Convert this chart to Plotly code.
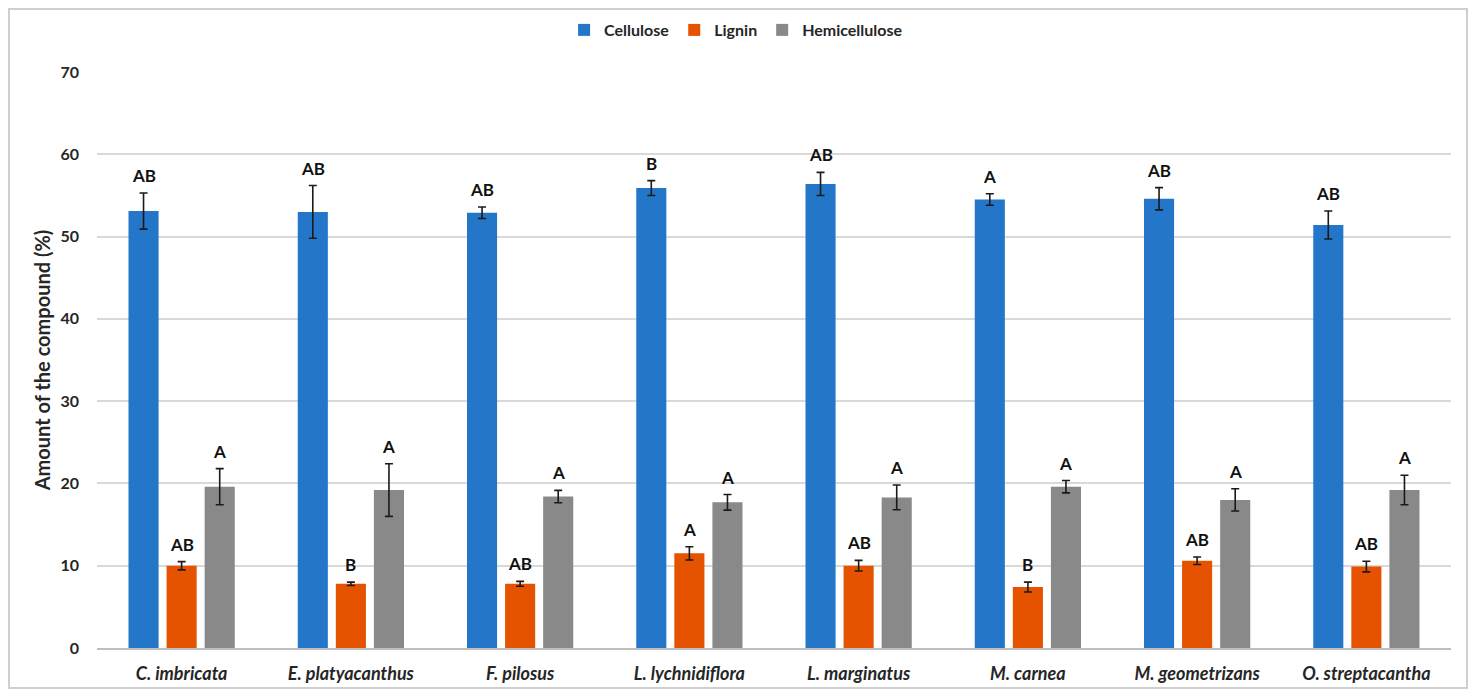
import plotly.graph_objects as go

categories = ["C. imbricata", "E. platyacanthus", "F. pilosus", "L. lychnidiflora",
              "L. marginatus", "M. carnea", "M. geometrizans", "O. streptacantha"]
series_names = ["Cellulose", "Lignin", "Hemicellulose"]

cellulose = [53.1, 53.0, 52.9, 55.9, 56.4, 54.5, 54.6, 51.4]
cellulose_err = [2.2, 3.2, 0.7, 0.9, 1.4, 0.7, 1.35, 1.7]
lignin = [10.0, 7.8, 7.8, 11.5, 10.0, 7.4, 10.6, 9.9]
lignin_err = [0.5, 0.2, 0.3, 0.8, 0.65, 0.6, 0.45, 0.65]
hemicellulose = [19.6, 19.2, 18.4, 17.7, 18.3, 19.6, 18.0, 19.2]
hemicellulose_err = [2.2, 3.2, 0.75, 0.95, 1.5, 0.75, 1.35, 1.8]

cellulose_letters = ["AB", "AB", "AB", "B", "AB", "A", "AB", "AB"]
lignin_letters = ["AB", "B", "AB", "A", "AB", "B", "AB", "AB"]
hemicellulose_letters = ["A", "A", "A", "A", "A", "A", "A", "A"]

y_ticks = [0, 10, 20, 30, 40, 50, 60, 70]

colors = ["#2477c8", "#e55300", "#898989"]
values = [cellulose, lignin, hemicellulose]
errors = [cellulose_err, lignin_err, hemicellulose_err]
letters = [cellulose_letters, lignin_letters, hemicellulose_letters]

# page has an 8px body margin; figure is sized to fit inside the window
W, H = 1460, 681
ML, MR, MT, MB = 89, 17, 64, 41
plot_w = W - ML - MR
plot_h = H - MT - MB
bargap = 0.325
slot = plot_w / len(categories) * (1 - bargap) / 3

FONT = "Lato"
TXT = "#262626"

fig = go.Figure()
for name, vals, errs, col in zip(series_names, values, errors, colors):
    fig.add_trace(go.Bar(
        x=categories, y=vals, name=name, marker_color=col, marker_line_width=0,
        error_y=dict(type="data", array=errs, visible=True, color="#1a1a1a",
                     thickness=1.6, width=4),
    ))

annotations = []
for si, (vals, errs, lets) in enumerate(zip(values, errors, letters)):
    for cat, v, e, t in zip(categories, vals, errs, lets):
        annotations.append(dict(
            x=cat, y=v + e, xref="x", yref="y", text=t, showarrow=False,
            xshift=(si - 1) * slot, yshift=5, yanchor="bottom", xanchor="center",
            font=dict(family=FONT, size=17, color="#111111", weight="bold"),
        ))

# chart border along the figure edge
fig.add_shape(type="rect", xref="paper", yref="paper",
              x0=(1 - ML) / plot_w, x1=(W - 1 - ML) / plot_w,
              y0=-(MB - 1) / plot_h, y1=(plot_h + MT - 1) / plot_h,
              line=dict(color="#cfcfcf", width=2), layer="below")

fig.update_layout(
    width=W, height=H,
    margin=dict(l=ML, r=MR, t=MT, b=MB, pad=0, autoexpand=False),
    paper_bgcolor="white", plot_bgcolor="white",
    barmode="group", bargap=bargap, bargroupgap=0.21,
    annotations=annotations,
    legend=dict(orientation="h", x=0.472, xanchor="center",
                yref="container", y=1 - 22 / H, yanchor="middle",
                font=dict(family=FONT, size=16, color=TXT, weight="bold"),
                itemwidth=30, traceorder="normal", tracegroupgap=0),
    xaxis=dict(showgrid=False, showline=True, linecolor="#bfbfbf", linewidth=1.5,
               automargin=False,
               ticks="", tickfont=dict(family=FONT, size=18, color=TXT, weight="bold", style="italic"),
               ticklabelstandoff=9),
    yaxis=dict(range=[0, 70], tickvals=y_ticks, showgrid=True, gridcolor="#d9d9d9", gridwidth=1.5,
               zeroline=False, showline=False, ticks="", automargin=False,
               tickfont=dict(family=FONT, size=16, color=TXT, weight="bold"),
               ticklabelstandoff=17,
               title=dict(text="Amount of the compound (%)", standoff=4,
                          font=dict(family=FONT, size=20, color=TXT, weight="bold"))),
)

fig.write_html("out.html")
